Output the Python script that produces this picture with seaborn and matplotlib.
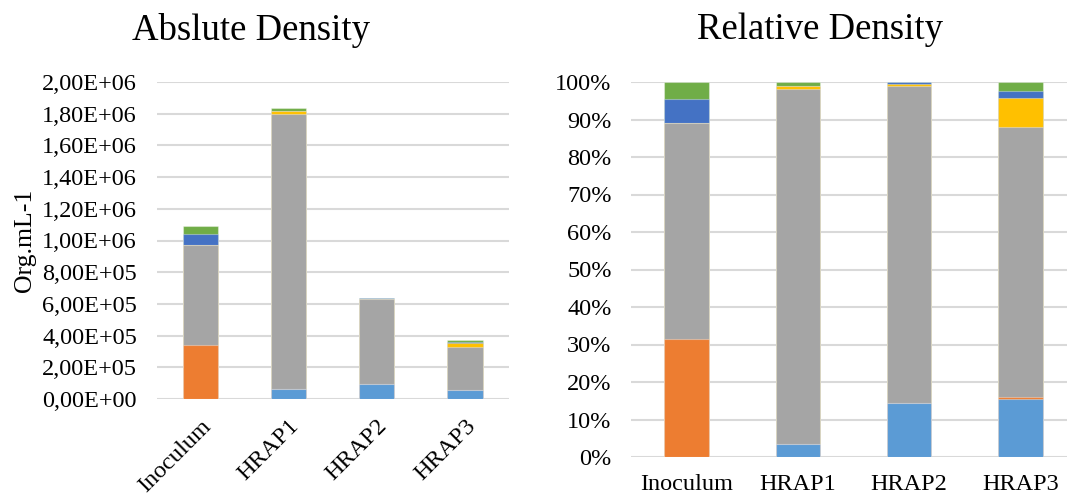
import matplotlib
matplotlib.use("Agg")
import matplotlib.pyplot as plt
from matplotlib.ticker import FuncFormatter, MultipleLocator
import numpy as np
import pandas as pd
import seaborn as sns

# Organism densities (org/mL) per sample, one list per stacked group (bottom to top)
categories = ["Inoculum", "HRAP1", "HRAP2", "HRAP3"]
group_1 = [0, 64000, 92000, 57000]
group_2 = [343000, 0, 0, 2000]
group_3 = [628000, 1734000, 537000, 266000]
group_4 = [0, 18000, 3000, 29000]
group_5 = [70000, 0, 3000, 7300]
group_6 = [49000, 18000, 0, 8500]

group_names = ["group_1", "group_2", "group_3", "group_4", "group_5", "group_6"]
group_colors = ["#5B9BD5", "#ED7D31", "#A5A5A5", "#FFC000", "#4472C4", "#70AD47"]

sns.set_theme(style="white")
plt.rcParams["font.family"] = ["Liberation Serif", "DejaVu Serif"]
plt.rcParams["text.color"] = "black"
plt.rcParams["axes.labelcolor"] = "black"

absolute = pd.DataFrame(
    dict(zip(group_names, [group_1, group_2, group_3, group_4, group_5, group_6])),
    index=categories,
)
relative = absolute.div(absolute.sum(axis=1), axis=0)

W, H = 1067, 495
fig = plt.figure(figsize=(W / 100, H / 100), dpi=100)
ax_abs = fig.add_axes([156.5 / W, 1 - 399 / H, (509 - 156.5) / W, (399 - 82) / H])
ax_rel = fig.add_axes([631 / W, 1 - 457 / H, (1076 - 631) / W, (457 - 82) / H])

TICK_SIZE = 17.5


def stacked(ax, data):
    cum = data.cumsum(axis=1)
    # draw cumulative totals from the top layer down so each layer shows as a stacked segment
    for name, color in reversed(list(zip(group_names, group_colors))):
        sns.barplot(
            x=categories, y=cum[name].values, color=color, saturation=1,
            width=0.4, errorbar=None, ax=ax,
            edgecolor=(1, 1, 1, 0.35), linewidth=0.8, zorder=3,
        )
    ax.grid(axis="y", color="#D9D9D9", linewidth=1.5, zorder=0)
    ax.set_axisbelow(True)
    for s in ax.spines.values():
        s.set_visible(False)
    ax.tick_params(axis="both", length=0, labelsize=TICK_SIZE, colors="black")
    ax.set_xlabel("")
    ax.set_ylabel("")
    ax.set_xlim(-0.5, 3.5)


stacked(ax_abs, absolute)
ax_abs.set_ylim(0, 2.0e6)
ax_abs.yaxis.set_major_locator(MultipleLocator(2.0e5))
ax_abs.yaxis.set_major_formatter(FuncFormatter(lambda v, p: f"{v:.2E}".replace(".", ",")))
ax_abs.tick_params(axis="y", pad=14)
ax_abs.tick_params(axis="x", pad=12)
for lab in ax_abs.get_xticklabels():
    lab.set_rotation(45)
    lab.set_ha("right")
    lab.set_va("top")
    lab.set_rotation_mode("anchor")
ax_abs.set_ylabel("Org.mL-1", fontsize=18.5, labelpad=4)

stacked(ax_rel, relative)
ax_rel.set_ylim(0, 1.0)
ax_rel.yaxis.set_major_locator(MultipleLocator(0.1))
ax_rel.yaxis.set_major_formatter(FuncFormatter(lambda v, p: f"{v * 100:.0f}%"))
ax_rel.tick_params(axis="y", pad=14)
ax_rel.tick_params(axis="x", pad=12)

fig.text(251.5 / W, 1 - 30 / H, "Abslute Density", ha="center", va="center", fontsize=26.5)
fig.text(820 / W, 1 - 30 / H, "Relative Density", ha="center", va="center", fontsize=26.5)

fig.savefig("out.png", dpi=100)
